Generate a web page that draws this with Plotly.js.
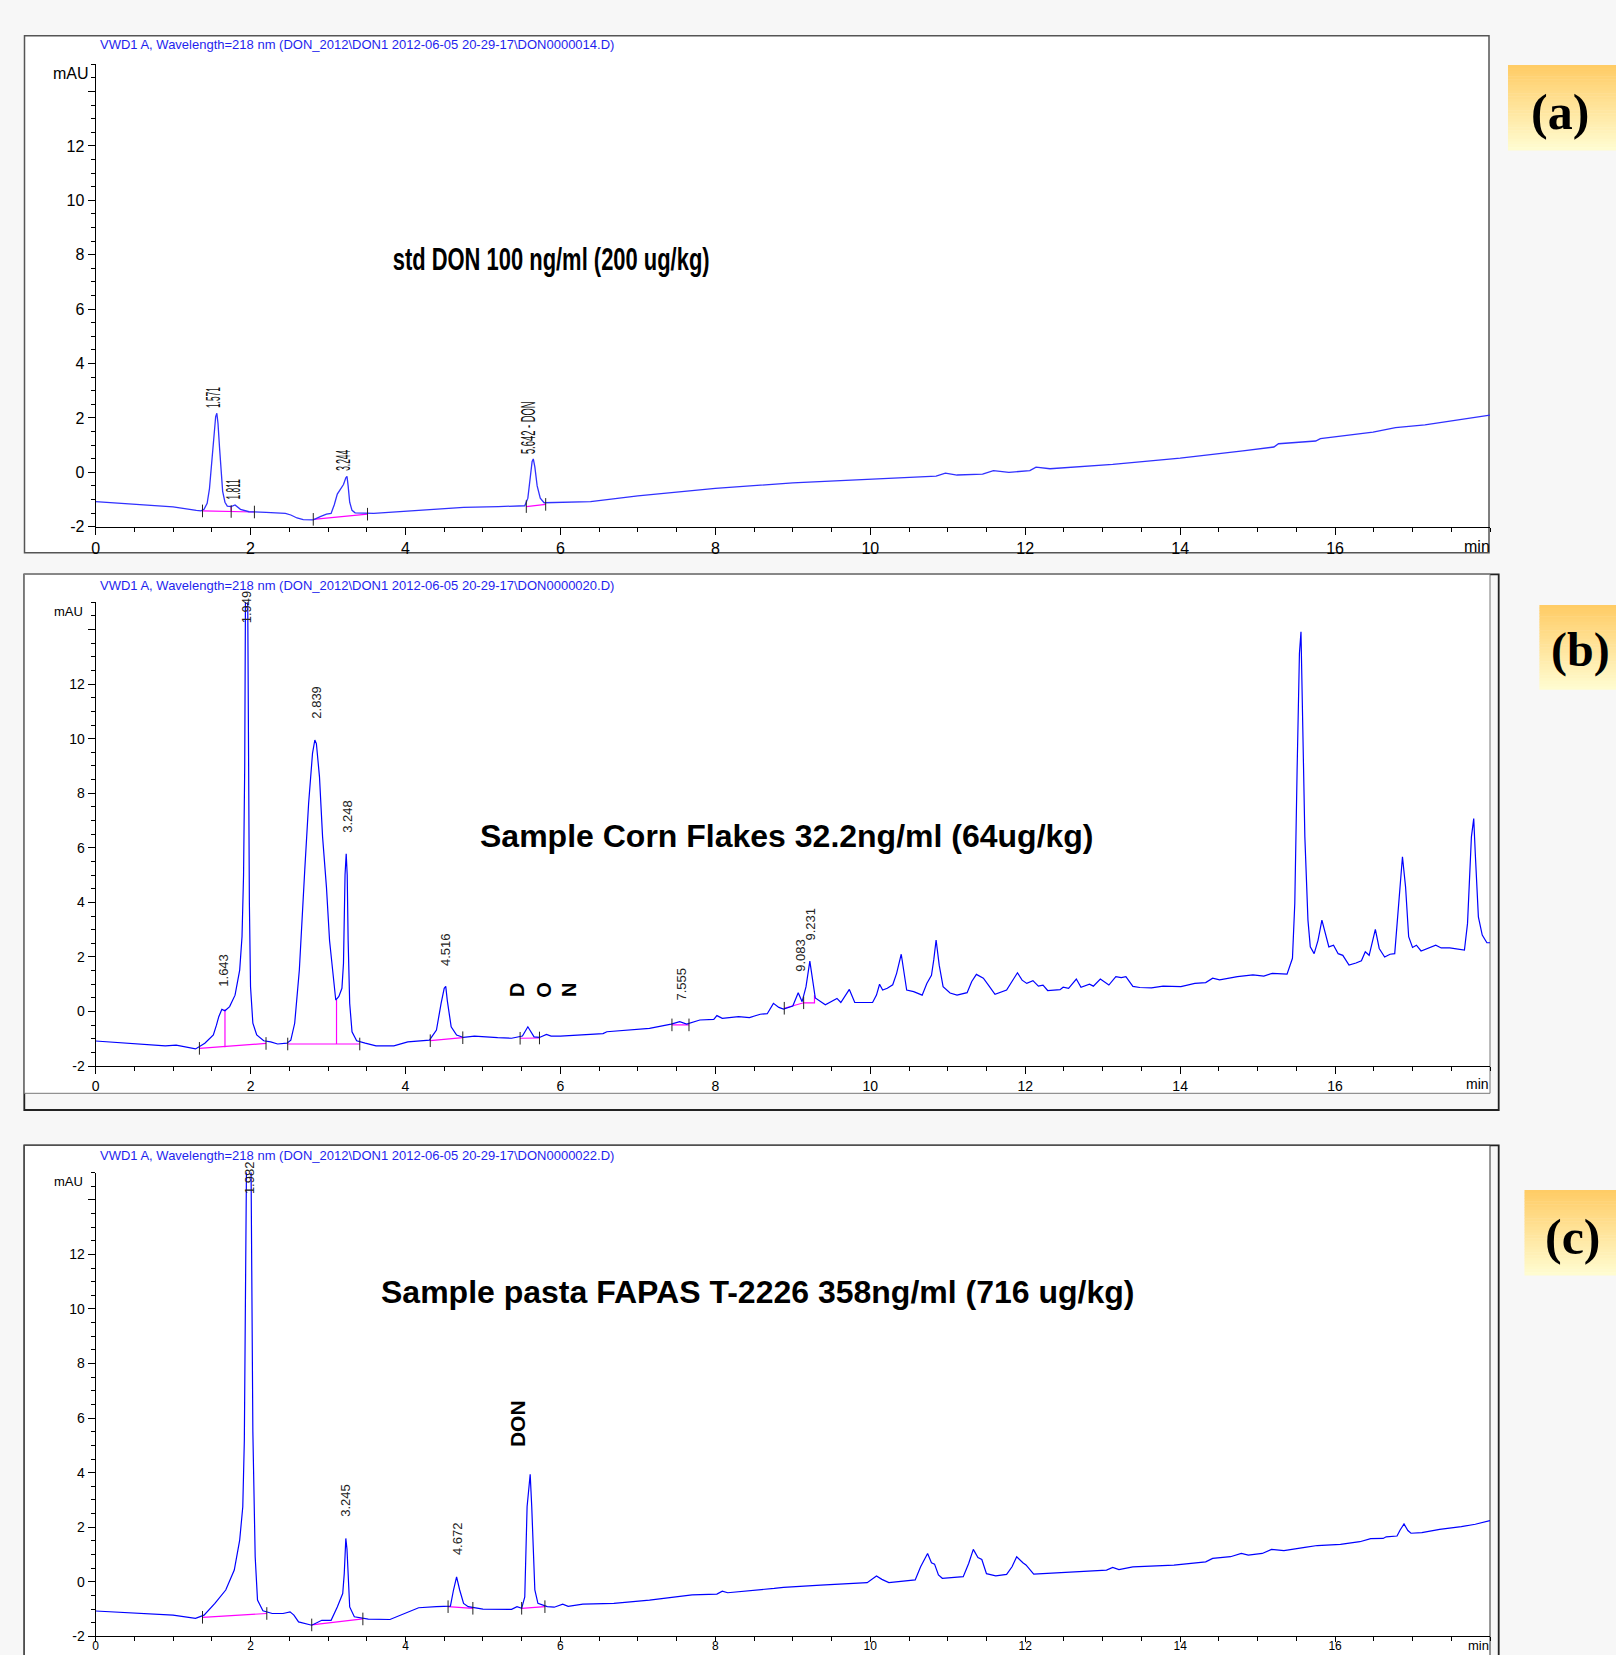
<!DOCTYPE html>
<html><head><meta charset="utf-8">
<script src="https://cdn.plot.ly/plotly-3.0.1.min.js"></script>
<style>html,body{margin:0;padding:0;background:#F7F7F7;} #chart{width:1616px;height:1655px;}</style>
</head><body><div id="chart"></div>
<script>
// ---------- DATA ----------
const panelTitles = [
  "VWD1 A, Wavelength=218 nm (DON_2012\\DON1 2012-06-05 20-29-17\\DON0000014.D)",
  "VWD1 A, Wavelength=218 nm (DON_2012\\DON1 2012-06-05 20-29-17\\DON0000020.D)",
  "VWD1 A, Wavelength=218 nm (DON_2012\\DON1 2012-06-05 20-29-17\\DON0000022.D)"
];
const sampleTexts = ["std DON 100 ng/ml (200 ug/kg)", "Sample Corn Flakes 32.2ng/ml (64ug/kg)", "Sample pasta FAPAS T-2226 358ng/ml (716 ug/kg)"];
const panelLetters = ["(a)", "(b)", "(c)"];
const xTickVals = [0, 2, 4, 6, 8, 10, 12, 14, 16];
const xTickText = ["0", "2", "4", "6", "8", "10", "12", "14", "16"];
const yTickVals = [-2, 0, 2, 4, 6, 8, 10, 12, 14];
const yTickText = ["-2", "0", "2", "4", "6", "8", "10", "12", ""];

// Panel (a): standard DON
const aTime = [0,0.5,1.0,1.30,1.36,1.40,1.44,1.47,1.50,1.53,1.55,1.565,1.58,1.60,1.62,1.64,1.67,1.70,1.75,1.80,1.87,1.98,2.20,2.45,2.52,2.60,2.68,2.81,2.90,2.98,3.04,3.08,3.12,3.16,3.20,3.23,3.245,3.26,3.28,3.31,3.35,3.59,4.23,4.75,5.20,5.54,5.58,5.61,5.635,5.65,5.67,5.70,5.74,5.79,6.39,7.0,8.0,9.0,10.0,10.85,10.97,11.12,11.45,11.59,11.79,12.06,12.14,12.32,13.13,14.0,14.81,15.21,15.27,15.75,15.81,16.49,16.78,17.16,18.0];
const aSignal = [-1.08,-1.17,-1.27,-1.40,-1.42,-1.36,-1.14,-0.6,0.3,1.4,2.05,2.17,1.8,0.9,0.0,-0.7,-1.1,-1.24,-1.26,-1.20,-1.36,-1.45,-1.47,-1.51,-1.57,-1.68,-1.74,-1.75,-1.63,-1.54,-1.51,-1.2,-0.8,-0.6,-0.45,-0.2,-0.15,-0.5,-1.1,-1.4,-1.49,-1.51,-1.39,-1.29,-1.26,-1.23,-0.95,-0.2,0.4,0.49,0.2,-0.5,-0.95,-1.12,-1.08,-0.87,-0.59,-0.39,-0.25,-0.14,-0.03,-0.10,-0.07,0.06,0.0,0.06,0.19,0.13,0.29,0.52,0.79,0.93,1.05,1.15,1.24,1.48,1.64,1.74,2.10];
const aBaseTime = [1.38,2.05,null,1.75,1.75,null,2.81,3.51,null,5.56,5.81];
const aBaseSignal = [-1.42,-1.46,null,-1.44,-1.26,null,-1.73,-1.54,null,-1.26,-1.18];
const aMarkTime = [1.38,1.75,2.05,2.81,3.51,5.56,5.81];
const aMarkSignal = [-1.42,-1.44,-1.46,-1.73,-1.54,-1.26,-1.18];
const aPeakLabels = ["1.571","1.811","3.244","5.642 - DON"];
const aPeakLabelTime = [1.51,1.77,3.20,5.59];
const aPeakLabelSignal = [2.73,-0.61,0.45,1.62];

// Panel (b): corn flakes
const bTime = [0,0.90,1.04,1.15,1.29,1.41,1.52,1.56,1.59,1.63,1.67,1.73,1.80,1.86,1.89,1.91,1.925,1.935,1.949,1.962,1.972,1.985,2.00,2.03,2.08,2.17,2.26,2.35,2.47,2.52,2.57,2.63,2.70,2.75,2.80,2.83,2.85,2.89,2.93,2.98,3.02,3.07,3.10,3.14,3.18,3.20,3.22,3.235,3.248,3.26,3.28,3.31,3.37,3.48,3.62,3.85,4.03,4.31,4.40,4.46,4.50,4.52,4.54,4.59,4.66,4.75,4.89,5.19,5.37,5.51,5.58,5.66,5.73,5.82,5.88,6.0,6.55,6.60,6.92,7.15,7.43,7.54,7.63,7.73,7.80,7.98,8.02,8.09,8.30,8.44,8.58,8.67,8.75,8.82,8.88,9.00,9.07,9.12,9.17,9.22,9.26,9.29,9.42,9.57,9.62,9.73,9.80,10.03,10.08,10.12,10.16,10.22,10.29,10.34,10.40,10.44,10.47,10.56,10.67,10.73,10.79,10.82,10.85,10.89,10.94,11.03,11.12,11.25,11.31,11.37,11.46,11.53,11.61,11.76,11.84,11.90,11.96,12.02,12.10,12.17,12.23,12.29,12.45,12.49,12.56,12.66,12.72,12.83,12.88,12.97,13.08,13.17,13.24,13.30,13.39,13.48,13.63,13.78,14.01,14.19,14.33,14.42,14.51,14.74,14.94,15.08,15.19,15.38,15.45,15.48,15.51,15.54,15.56,15.58,15.61,15.65,15.68,15.73,15.78,15.83,15.88,15.92,15.98,16.04,16.10,16.18,16.27,16.34,16.39,16.44,16.52,16.57,16.64,16.71,16.77,16.82,16.87,16.91,16.95,17.00,17.05,17.11,17.30,17.37,17.48,17.67,17.71,17.76,17.79,17.81,17.85,17.90,17.96,18.0];
const bSignal = [-1.08,-1.26,-1.23,-1.30,-1.37,-1.16,-0.86,-0.50,-0.19,0.08,0.03,0.18,0.60,1.52,2.74,5.0,9.0,15.5,24,16,9,4.0,0.91,-0.43,-0.86,-1.07,-1.11,-1.19,-1.16,-1.05,-0.43,1.52,5.19,7.63,9.46,9.95,9.82,8.6,6.4,4.56,2.6,1.16,0.42,0.55,0.85,1.77,5.0,5.78,5.0,2.6,0.3,-0.74,-1.07,-1.16,-1.26,-1.26,-1.11,-1.05,-0.68,0.30,0.85,0.92,0.40,-0.56,-0.86,-0.95,-0.90,-0.96,-0.98,-0.90,-0.56,-0.93,-0.95,-0.84,-0.90,-0.90,-0.81,-0.74,-0.68,-0.62,-0.46,-0.37,-0.46,-0.37,-0.31,-0.29,-0.15,-0.25,-0.19,-0.22,-0.10,-0.08,0.30,0.15,0.09,0.20,0.69,0.36,0.9,1.85,1.0,0.5,0.25,0.48,0.33,0.81,0.33,0.33,0.6,1.0,0.79,0.85,0.98,1.4,2.1,1.4,0.79,0.73,0.60,1.03,1.33,1.9,2.62,1.7,0.91,0.68,0.60,0.69,1.1,1.36,1.22,0.95,0.63,0.79,1.15,1.42,1.15,1.03,1.13,0.93,0.97,0.77,0.80,0.89,0.85,1.19,0.89,1.0,0.93,1.19,0.97,1.28,1.24,1.28,0.92,0.88,0.87,0.93,0.91,1.03,1.06,1.22,1.16,1.28,1.34,1.30,1.40,1.37,1.95,3.96,8.85,13.12,13.92,11.3,6.4,3.35,2.37,2.12,2.61,3.35,2.74,2.37,2.43,2.12,2.06,1.70,1.78,1.86,2.19,2.06,3.01,2.31,2.0,2.1,2.12,3.96,5.67,4.57,2.74,2.35,2.43,2.22,2.43,2.33,2.33,2.25,3.23,6.40,7.07,5.79,3.47,2.80,2.52,2.52];
const bBaseTime = [1.34,2.20,null,1.67,1.67,null,2.48,3.41,null,3.11,3.11,null,4.32,4.74,null,5.48,5.73,null,7.44,7.66,null,8.89,9.14,9.28,9.28];
const bBaseSignal = [-1.35,-1.17,null,-1.31,0.08,null,-1.19,-1.19,null,-1.19,0.42,null,-1.07,-0.96,null,-0.98,-0.97,null,-0.49,-0.49,null,0.12,0.32,0.32,0.6];
const bMarkTime = [1.34,2.20,2.48,3.41,4.32,4.74,5.48,5.73,7.44,7.66,8.89,9.14];
const bMarkSignal = [-1.35,-1.17,-1.19,-1.19,-1.07,-0.96,-0.98,-0.97,-0.49,-0.49,0.12,0.32];
const bPeakLabels = ["1.949","1.643","2.839","3.248","4.516","7.555","9.083","9.231"];
const bPeakLabelTime = [1.95,1.64,2.84,3.26,4.51,7.56,9.09,9.23];
const bPeakLabelSignal = [14.84,1.52,11.34,7.14,2.29,1.0,2.07,3.21];
const bDonLetters = ["D","O","N"];
const bDonLetterTime = [5.44,5.785,6.11];
const bDonLetterSignal = [0.79,0.79,0.79];

// Panel (c): pasta FAPAS
const cTime = [0,0.66,1.0,1.29,1.40,1.54,1.68,1.79,1.86,1.90,1.92,1.94,1.955,1.975,1.995,2.01,2.03,2.04,2.06,2.09,2.16,2.28,2.42,2.51,2.56,2.62,2.79,2.92,3.04,3.12,3.19,3.21,3.23,3.245,3.26,3.28,3.34,3.52,3.80,3.98,4.17,4.40,4.58,4.62,4.66,4.70,4.75,4.81,5.00,5.37,5.44,5.50,5.54,5.57,5.61,5.63,5.67,5.71,5.83,5.92,6.03,6.10,6.29,6.69,7.15,7.70,8.02,8.09,8.16,8.76,8.88,9.36,9.96,10.08,10.15,10.24,10.58,10.65,10.74,10.79,10.83,10.88,10.93,11.20,11.27,11.33,11.39,11.44,11.50,11.62,11.76,11.83,11.89,11.97,12.01,12.11,12.45,13.05,13.13,13.21,13.39,13.64,13.92,14.33,14.42,14.65,14.79,14.88,15.06,15.18,15.34,15.61,15.77,16.07,16.32,16.46,16.62,16.66,16.80,16.84,16.89,16.94,16.98,17.12,17.35,17.63,17.81,18.0];
const cSignal = [-1.07,-1.16,-1.22,-1.34,-1.22,-0.79,-0.30,0.43,1.53,2.75,5.19,12.5,20,25,20,12,5.5,3.97,0.92,-0.67,-1.06,-1.16,-1.16,-1.10,-1.22,-1.47,-1.59,-1.41,-1.41,-0.92,-0.43,0.31,1.59,1.2,0.31,-0.92,-1.28,-1.37,-1.38,-1.16,-0.95,-0.91,-0.89,-0.30,0.18,-0.30,-0.79,-0.91,-1.00,-1.01,-0.91,-0.97,-0.55,2.75,3.94,2.75,-0.30,-0.79,-0.91,-0.93,-0.82,-0.90,-0.82,-0.79,-0.67,-0.48,-0.45,-0.34,-0.40,-0.24,-0.20,-0.12,-0.03,0.21,0.09,-0.03,0.07,0.55,1.04,0.70,0.65,0.25,0.13,0.19,0.67,1.19,0.89,0.82,0.30,0.22,0.27,0.55,0.92,0.70,0.62,0.28,0.34,0.43,0.53,0.45,0.55,0.59,0.61,0.73,0.86,0.92,1.04,0.98,1.04,1.19,1.14,1.26,1.33,1.37,1.47,1.58,1.59,1.65,1.68,1.90,2.12,1.88,1.78,1.80,1.92,2.02,2.11,2.24];
const cBaseTime = [1.38,2.21,null,2.79,3.45,null,4.55,4.87,null,5.50,5.80];
const cBaseSignal = [-1.30,-1.16,null,-1.58,-1.36,null,-0.91,-0.97,null,-0.97,-0.91];
const cMarkTime = [1.38,2.21,2.79,3.45,4.55,4.87,5.50,5.80];
const cMarkSignal = [-1.30,-1.16,-1.58,-1.36,-0.91,-0.97,-0.97,-0.91];
const cPeakLabels = ["1.982","3.245","4.672"];
const cPeakLabelTime = [1.98,3.23,4.68];
const cPeakLabelSignal = [14.83,3.0,1.57];
const cDonLabel = "DON";
const cDonTime = 5.44, cDonSignal = 5.78;

// ---------- LAYOUT HELPERS ----------
const W = 1616, H = 1655;
const FONT = "Liberation Sans, Arial, Helvetica, sans-serif";
const SERIF = "Liberation Serif, Times New Roman, serif";
const px = v => v / W;
const py = v => 1 - v / H;

function xAxis(anchor, size, standoff, tlen) {
  return {
    domain: [px(95.6), px(1490)], range: [0, 18], anchor: anchor,
    tickmode: "array", tickvals: xTickVals, ticktext: xTickText,
    ticks: "outside", ticklen: tlen, tickwidth: 1, tickcolor: "#000",
    ticklabelstandoff: standoff,
    showline: true, linecolor: "#000", linewidth: 1,
    showgrid: false, zeroline: false, fixedrange: true,
    tickfont: {family: FONT, size: size, color: "#000"},
    minor: {tickmode: "linear", tick0: 0, dtick: 0.5, ticks: "outside", ticklen: 4, tickwidth: 1, tickcolor: "#000", showgrid: false}
  };
}
function yAxis(anchor, top, bottom, size) {
  return {
    domain: [py(bottom), py(top)], range: [-2, 15], anchor: anchor,
    tickmode: "array", tickvals: yTickVals, ticktext: yTickText,
    ticks: "outside", ticklen: 7, tickwidth: 1, tickcolor: "#000",
    showline: true, linecolor: "#000", linewidth: 1,
    showgrid: false, zeroline: false, fixedrange: true,
    tickfont: {family: FONT, size: size, color: "#000"},
    minor: {tickmode: "linear", tick0: 0, dtick: 0.5, ticks: "outside", ticklen: 4, tickwidth: 1, tickcolor: "#000", showgrid: false}
  };
}

// ---------- TRACES ----------
function chrom(t, s, xa, ya, color, w) {
  return {type: "scatter", mode: "lines", x: t, y: s, xaxis: xa, yaxis: ya,
          line: {color: color, width: w}, hoverinfo: "skip"};
}
function base(t, s, xa, ya) {
  return {type: "scatter", mode: "lines", x: t, y: s, xaxis: xa, yaxis: ya,
          connectgaps: false, line: {color: "#FF00FF", width: 1.2}, hoverinfo: "skip"};
}
function marks(t, s, xa, ya) {
  return {type: "scatter", mode: "markers", x: t, y: s, xaxis: xa, yaxis: ya,
          marker: {symbol: "line-ns-open", size: 9, color: "#222", line: {width: 1, color: "#222"}}, hoverinfo: "skip"};
}
const traces = [
  base(aBaseTime, aBaseSignal, "x", "y"),
  chrom(aTime, aSignal, "x", "y", "#3030FF", 1.3),
  marks(aMarkTime, aMarkSignal, "x", "y"),
  base(bBaseTime, bBaseSignal, "x2", "y2"),
  chrom(bTime, bSignal, "x2", "y2", "#0000FF", 1.2),
  marks(bMarkTime, bMarkSignal, "x2", "y2"),
  base(cBaseTime, cBaseSignal, "x3", "y3"),
  chrom(cTime, cSignal, "x3", "y3", "#0000FF", 1.2),
  marks(cMarkTime, cMarkSignal, "x3", "y3")
];

// ---------- SHAPES ----------
const shapes = [];
function rect(x0, y0, x1, y1, fill, lc, lw) {
  shapes.push({type: "rect", xref: "paper", yref: "paper", layer: "below",
    x0: px(x0), x1: px(x1), y0: py(y1), y1: py(y0), fillcolor: fill,
    line: {color: lc, width: lw}});
}
rect(24.5, 35.7, 1489, 552.7, "#FFFFFF", "#555", 1.5);
rect(24.3, 574.3, 1498.7, 1110, "#F7F7F7", "#222", 1.8);
rect(24.3, 574.3, 1490, 1093.3, "#FFFFFF", "#777", 1);
rect(24.3, 1145.3, 1498.7, 1720, "#F7F7F7", "#222", 1.8);
rect(24.3, 1145.3, 1490, 1720, "#FFFFFF", "#333", 1);
// yellow gradient label boxes
const labelBoxes = [[1508, 65, 1620, 150], [1539.4, 605, 1620, 689.3], [1524.5, 1190, 1620, 1275]];
const N = 30;
labelBoxes.forEach(b => {
  const hgt = (b[3] - b[1]) / N;
  for (let i = 0; i < N; i++) {
    const f = i / (N - 1);
    const g = Math.round(204 + (252 - 204) * f), bl = Math.round(102 + (208 - 102) * f);
    const col = `rgb(255,${g},${bl})`;
    shapes.push({type: "rect", xref: "paper", yref: "paper", layer: "below",
      x0: px(b[0]), x1: px(b[2]), y0: py(b[1] + (i + 1) * hgt + 0.5), y1: py(b[1] + i * hgt),
      fillcolor: col, line: {width: 0}});
  }
});

// ---------- ANNOTATIONS ----------
const annotations = [];
const compress = {};
function ann(o, squeeze) {
  annotations.push(Object.assign({showarrow: false}, o));
  if (squeeze) compress[annotations.length - 1] = squeeze;
}
const titleY = [45, 585.5, 1155.5];
panelTitles.forEach((t, i) => ann({text: t, xref: "paper", yref: "paper", x: px(98), y: py(titleY[i]),
  xanchor: "left", yanchor: "middle", font: {family: FONT, size: 13, color: "#1F1FEE"}}));
ann({text: "mAU", xref: "paper", yref: "paper", x: px(91), y: py(73), xanchor: "right", yanchor: "middle", font: {family: FONT, size: 16, color: "#000"}});
ann({text: "mAU", xref: "paper", yref: "paper", x: px(85), y: py(611.7), xanchor: "right", yanchor: "middle", font: {family: FONT, size: 13, color: "#000"}});
ann({text: "mAU", xref: "paper", yref: "paper", x: px(85), y: py(1181.7), xanchor: "right", yanchor: "middle", font: {family: FONT, size: 13, color: "#000"}});
ann({text: "min", xref: "paper", yref: "paper", x: px(1492), y: py(546), xanchor: "right", yanchor: "middle", font: {family: FONT, size: 16, color: "#000"}});
ann({text: "min", xref: "paper", yref: "paper", x: px(1491), y: py(1084), xanchor: "right", yanchor: "middle", font: {family: FONT, size: 14, color: "#000"}});
ann({text: "min", xref: "paper", yref: "paper", x: px(1491), y: py(1645), xanchor: "right", yanchor: "middle", font: {family: FONT, size: 13, color: "#000"}});
// sample texts
ann({text: "<b>" + sampleTexts[0] + "</b>", xref: "paper", yref: "paper", x: px(551), y: py(259), xanchor: "center", yanchor: "middle", font: {family: FONT, size: 32, color: "#000"}}, 0.686);
ann({text: "<b>" + sampleTexts[1] + "</b>", xref: "paper", yref: "paper", x: px(786.5), y: py(836), xanchor: "center", yanchor: "middle", font: {family: FONT, size: 32, color: "#000"}});
ann({text: "<b>" + sampleTexts[2] + "</b>", xref: "paper", yref: "paper", x: px(757.4), y: py(1292), xanchor: "center", yanchor: "middle", font: {family: FONT, size: 32, color: "#000"}});
// peak labels
aPeakLabels.forEach((t, i) => ann({text: t, xref: "x", yref: "y", x: aPeakLabelTime[i], y: aPeakLabelSignal[i], textangle: -90,
  xanchor: "center", yanchor: "middle", font: {family: FONT, size: 20, color: "#111"}}, i === 3 ? 0.47 : 0.42));
bPeakLabels.forEach((t, i) => ann({text: t, xref: "x2", yref: "y2", x: bPeakLabelTime[i], y: bPeakLabelSignal[i], textangle: -90,
  xanchor: "center", yanchor: "middle", font: {family: FONT, size: 13, color: "#222"}}));
bDonLetters.forEach((t, i) => ann({text: "<b>" + t + "</b>", xref: "x2", yref: "y2", x: bDonLetterTime[i], y: bDonLetterSignal[i], textangle: -90,
  xanchor: "center", yanchor: "middle", font: {family: FONT, size: 20, color: "#000"}}));
cPeakLabels.forEach((t, i) => ann({text: t, xref: "x3", yref: "y3", x: cPeakLabelTime[i], y: cPeakLabelSignal[i], textangle: -90,
  xanchor: "center", yanchor: "middle", font: {family: FONT, size: 13, color: "#222"}}));
ann({text: "<b>" + cDonLabel + "</b>", xref: "x3", yref: "y3", x: cDonTime, y: cDonSignal, textangle: -90,
  xanchor: "center", yanchor: "middle", font: {family: FONT, size: 21, color: "#000"}});
// panel letters
ann({text: "<b>" + panelLetters[0] + "</b>", xref: "paper", yref: "paper", x: px(1559.6), y: py(112), xanchor: "center", yanchor: "middle", font: {family: SERIF, size: 50, color: "#000"}});
ann({text: "<b>" + panelLetters[1] + "</b>", xref: "paper", yref: "paper", x: px(1549), y: py(650), xanchor: "left", yanchor: "middle", font: {family: SERIF, size: 48, color: "#000"}});
ann({text: "<b>" + panelLetters[2] + "</b>", xref: "paper", yref: "paper", x: px(1573), y: py(1237), xanchor: "center", yanchor: "middle", font: {family: SERIF, size: 50, color: "#000"}});

const layout = {
  width: W, height: H, margin: {l: 0, r: 0, t: 0, b: 0},
  paper_bgcolor: "#F7F7F7", plot_bgcolor: "rgba(0,0,0,0)", showlegend: false,
  xaxis: xAxis("y", 16, 0, 7), yaxis: yAxis("x", 64.3, 526.7, 16),
  xaxis2: xAxis("y2", 14, 0, 7), yaxis2: yAxis("x2", 602.2, 1066.1, 14),
  xaxis3: xAxis("y3", 12, -7, 5), yaxis3: yAxis("x3", 1172.5, 1636.4, 14),
  shapes: shapes, annotations: annotations
};

Plotly.newPlot("chart", traces, layout, {staticPlot: true, displayModeBar: false}).then(() => {
  document.querySelectorAll("g.annotation").forEach(g => {
    const idx = +g.getAttribute("data-index");
    if (compress[idx]) {
      const t = g.querySelector("text.annotation-text");
      if (t) {
        t.style.transformBox = "fill-box";
        t.style.transformOrigin = "center";
        t.style.transform = "scaleX(" + compress[idx] + ")";
      }
    }
  });
});
</script></body></html>
